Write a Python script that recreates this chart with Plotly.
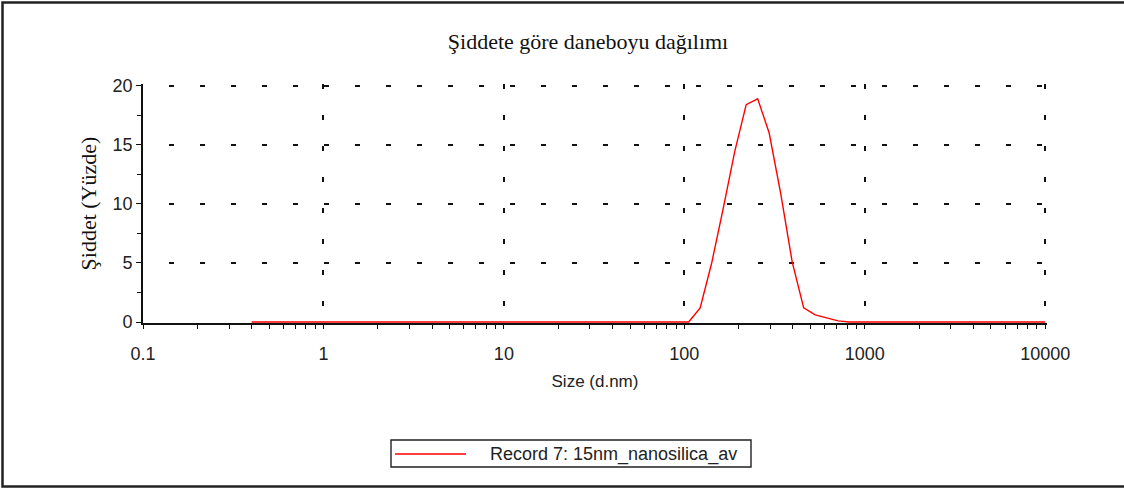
import plotly.graph_objects as go

# Size distribution by intensity (DLS record)
sizes_nm = [0.4, 0.4632, 0.5365, 0.6213, 0.7195, 0.8332, 0.9649, 1.117, 1.294, 1.499,
            1.736, 2.01, 2.328, 2.696, 3.122, 3.615, 4.187, 4.849, 5.615, 6.503,
            7.531, 8.721, 10.1, 11.7, 13.54, 15.69, 18.17, 21.04, 24.36, 28.21,
            32.67, 37.84, 43.82, 50.75, 58.77, 68.06, 78.82, 91.28, 105.7, 122.4,
            141.8, 164.2, 190.1, 220.2, 255.0, 295.3, 342.0, 396.1, 458.7, 531.2,
            615.1, 712.4, 825.0, 955.4, 1106, 1281, 1484, 1718, 1990, 2305,
            2669, 3091, 3580, 4145, 4801, 5560, 6439, 7456, 8635, 10000]
intensity_pct = [0] * 38 + [0.0, 1.2, 5.0, 9.6, 14.4, 18.4, 18.9, 16.0, 10.9, 5.1,
                            1.2, 0.6, 0.35, 0.1, 0.0] + [0] * 17

record_name = "Record 7: 15nm_nanosilica_av"
x_tick_vals = [0.1, 1, 10, 100, 1000, 10000]
x_tick_text = ["0.1", "1", "10", "100", "1000", "10000"]
x_minor_vals = [m * 10 ** e for e in range(-1, 4) for m in range(2, 10)]
y_tick_vals = [0, 5, 10, 15, 20]

W, H = 1124, 490
# plot area in pixels (a little extra room so the edge gridlines are drawn)
L, R, T, B = 143, 1047, 84, 323


def px_x(p):
    return (p - L) / (R - L)


def px_y(p):
    return (B - p) / (B - T)


fig = go.Figure()
fig.add_trace(go.Scatter(x=sizes_nm, y=intensity_pct, mode="lines",
                         line=dict(color="#ff0000", width=1.4),
                         name=record_name, showlegend=False))

fig.update_layout(
    width=W, height=H,
    margin=dict(l=L, r=W - R, t=T, b=H - B),
    paper_bgcolor="white", plot_bgcolor="white",
    font=dict(family="Liberation Sans", size=18, color="#222"),
    title=dict(text="Şiddete göre daneboyu dağılımı", x=px_x(588), xref="paper",
               xanchor="center", y=1 - 41 / H, yanchor="middle",
               font=dict(family="Liberation Serif", size=22, color="#111")),
)

fig.update_xaxes(
    type="log", range=[-1, 4.01], tickvals=x_tick_vals, ticktext=x_tick_text,
    showline=True, linecolor="#111", linewidth=1.8, layer="below traces",
    ticks="outside", ticklen=4, tickcolor="#111", ticklabelstandoff=9,
    showgrid=True, gridcolor="#111", gridwidth=1.8, griddash="5px,26px",
    minor=dict(tickvals=x_minor_vals, ticks="outside", ticklen=4, tickcolor="#111",
               showgrid=False),
    title=dict(text="Size (d.nm)", font=dict(size=17, color="#222"), standoff=13),
    zeroline=False,
)
fig.update_yaxes(
    range=[-0.08, 20.15], tickvals=y_tick_vals,
    showline=True, linecolor="#111", linewidth=1.8, layer="below traces",
    ticks="outside", ticklen=5, tickcolor="#111",
    showgrid=True, gridcolor="#111", gridwidth=1.8, griddash="0px,26px,5px,0px",
    minor=dict(dtick=2.5, ticks="outside", ticklen=4, tickcolor="#111", showgrid=False),
    title=dict(text="Şiddet (Yüzde)",
               font=dict(family="Liberation Serif", size=22, color="#111"), standoff=10),
    zeroline=False,
)

# outer frame (right edge lies beyond the picture)
fig.add_shape(type="rect", xref="paper", yref="paper",
              x0=px_x(2.5), x1=px_x(1135), y0=px_y(486.5), y1=px_y(2.5),
              line=dict(color="#222", width=2.5), layer="below")

# legend box
fig.add_shape(type="rect", xref="paper", yref="paper",
              x0=px_x(391), x1=px_x(751), y0=px_y(467), y1=px_y(440),
              line=dict(color="#222", width=1.4))
fig.add_shape(type="line", xref="paper", yref="paper",
              x0=px_x(395), x1=px_x(466), y0=px_y(454), y1=px_y(454),
              line=dict(color="#ff0000", width=1.4))
fig.add_annotation(text=record_name, xref="paper", yref="paper",
                   x=px_x(488), y=px_y(454), xanchor="left", yanchor="middle",
                   showarrow=False, font=dict(size=18, color="#222"))

fig.write_html("out.html", config={"displayModeBar": False},
               post_script="document.body.style.margin='0px';")
